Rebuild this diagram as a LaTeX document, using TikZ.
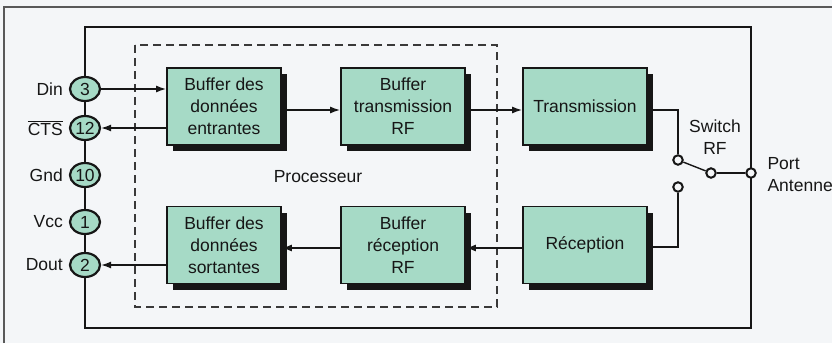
\documentclass[tikz,border=0pt]{standalone}
\usepackage{fontspec}
\setmainfont{Liberation Sans}
\usetikzlibrary{shadows,arrows.meta,shapes.geometric}
\definecolor{bg}{RGB}{244,246,248}
\definecolor{mint}{RGB}{166,218,198}
\definecolor{ink}{RGB}{22,22,22}
\begin{document}
\begin{tikzpicture}[x=1pt,y=-1pt,
  every node/.style={font=\fontsize{17.5}{22}\selectfont, text=ink},
  blk/.style={draw=ink, line width=1.8pt, fill=mint, align=center, minimum height=77pt, inner sep=0pt,
     general shadow={fill=ink, shadow xshift=5.5pt, shadow yshift=-6pt}},
  pin/.style={draw=ink, line width=2.2pt, fill=mint, ellipse, minimum width=30pt, minimum height=24pt, inner sep=0pt},
  sw/.style={draw=ink, line width=2pt, fill=bg, circle, minimum size=9.5pt, inner sep=0pt},
  conn/.style={draw=ink, line width=1.4pt},
  arr/.style={conn, -{Latex[length=10pt,width=7pt]}},
  lbl/.style={anchor=east, inner sep=0pt}]
\useasboundingbox (0,0) rectangle (832,343);
\fill[bg] (0,0) rectangle (832,343);
% outer thin frame (top and left)
\draw[gray!70!black, line width=1.2pt] (4,343) -- (4,7) -- (832,7);
% main module frame
\draw[ink, line width=2.8pt] (85,27) rectangle (751,328);
% processor dashed area
\draw[ink!85, line width=1.2pt, dash pattern=on 8pt off 5pt] (135,45) rectangle (497,307);
\node at (318,177) (proc) {Processeur};
% pins
\node[pin] (p3) at (85,89) {3};
\node[pin] (p12) at (85,128) {12};
\node[pin] (p10) at (85,175) {10};
\node[pin] (p1) at (85,222) {1};
\node[pin] (p2) at (85,265) {2};
\node[lbl] (ldin) at (63,89) {Din};
\node[lbl] (lcts) at (63,128) {$\overline{\mbox{CTS}}$};
\node[lbl] (lgnd) at (63,175) {Gnd};
\node[lbl] (lvcc) at (63,222) {Vcc};
\node[lbl] (ldout) at (63,265) {Dout};
% blocks
\node[blk, minimum width=114pt] (b1) at (224,106.5) {Buffer des\\donn\'ees\\entrantes};
\node[blk, minimum width=124pt] (b2) at (403,106.5) {Buffer\\transmission\\RF};
\node[blk, minimum width=124pt] (b3) at (585,106.5) {Transmission};
\node[blk, minimum width=114pt] (b4) at (224,245) {Buffer des\\donn\'ees\\sortantes};
\node[blk, minimum width=124pt] (b5) at (403,245) {Buffer\\r\'eception\\RF};
\node[blk, minimum width=124pt] (b6) at (585,245) {R\'eception};
% connectors
\draw[arr] (p3.east) -- (p3.east -| b1.west);
\draw[arr] (b1.west |- p12.east) -- (p12.east);
\draw[arr] (b1.east |- 0,110) -- (b2.west |- 0,110);
\draw[arr] (b2.east |- 0,110) -- (b3.west |- 0,110);
\draw[arr] (b6.west |- 0,248) -- (b5.east |- 0,248);
\draw[arr] (b5.west |- 0,248) -- (b4.east |- 0,248);
\draw[arr] (b4.west |- p2.east) -- (p2.east);
% switch
\node[sw] (s1) at (678,160) {};
\node[sw] (s2) at (678,187) {};
\node[sw] (piv) at (711,173) {};
\node[sw] (port) at (751,173) {};
\draw[conn] (b3.east |- 0,110) -| (s1.north);
\draw[conn] (b6.east |- 0,247) -| (s2.south);
\draw[conn] (s1) -- (piv);
\draw[conn] (piv) -- (port);
\node[align=center] (swl) at (715,137.5) {Switch\\RF};
\node[align=left, anchor=west] (portl) at (764,174.5) {Port\\Antenne};
\end{tikzpicture}
\end{document}
